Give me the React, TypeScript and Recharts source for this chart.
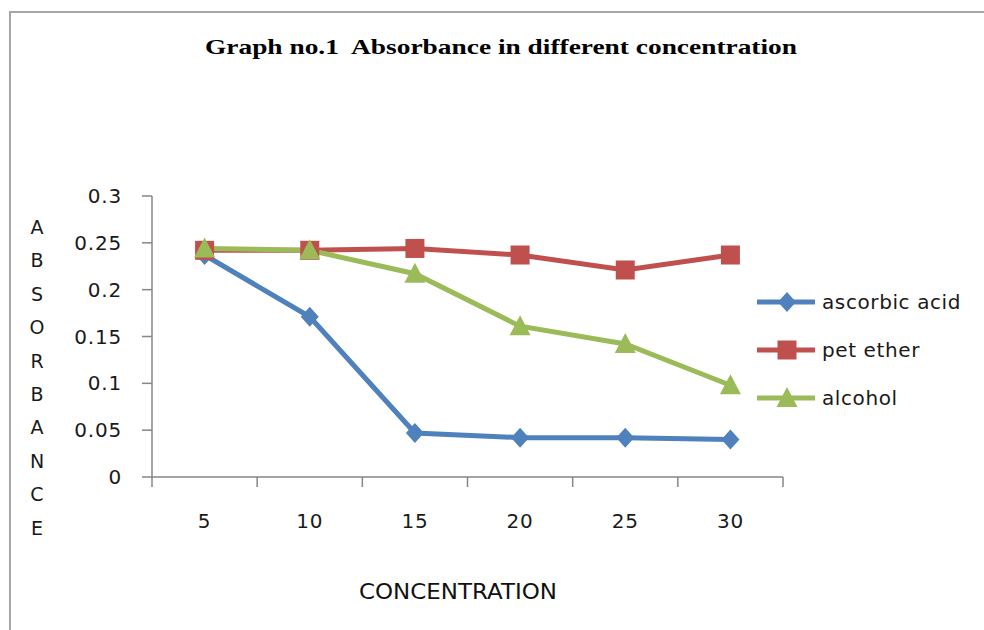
import { LineChart, Line, XAxis, YAxis } from 'recharts'

const concentrations = [5, 10, 15, 20, 25, 30]
const ascorbicAcid = [0.237, 0.171, 0.047, 0.042, 0.042, 0.04]
const petEther = [0.242, 0.242, 0.244, 0.237, 0.221, 0.237]
const alcohol = [0.244, 0.242, 0.217, 0.161, 0.142, 0.098]
const yTicks = [0, 0.05, 0.1, 0.15, 0.2, 0.25, 0.3]
const yTickLabels = ['0', '0.05', '0.1', '0.15', '0.2', '0.25', '0.3']
const xBoundaries = [2.5, 7.5, 12.5, 17.5, 22.5, 27.5, 32.5]
const yTitleLetters = ['A', 'B', 'S', 'O', 'R', 'B', 'A', 'N', 'C', 'E']

const data = concentrations.map((c, i) => ({
    conc: c,
    ascorbic: ascorbicAcid[i],
    pet: petEther[i],
    alcohol: alcohol[i],
}))

const BLUE = '#4F81BD'
const RED = '#C0504D'
const GREEN = '#9BBB59'
const AXIS = '#868686'
const TEXT = '#1a1a1a'
const FONT = '"DejaVu Sans", Verdana, sans-serif'

const PLOT_W = 631
const HALF_BAND = PLOT_W / 12

const Marker = ({ shape, cx, cy, color }: any) => {
    if (cx == null || cy == null) return null
    if (shape === 'diamond')
        return <polygon points={`${cx},${cy - 10} ${cx + 9},${cy} ${cx},${cy + 10} ${cx - 9},${cy}`} fill={color} />
    if (shape === 'square')
        return <rect x={cx - 9.5} y={cy - 9.5} width={19} height={19} fill={color} />
    return <polygon points={`${cx},${cy - 11} ${cx + 10.5},${cy + 9} ${cx - 10.5},${cy + 9}`} fill={color} />
}

const series = [
    { key: 'ascorbic', name: 'ascorbic acid', color: BLUE, shape: 'diamond' },
    { key: 'pet', name: 'pet ether', color: RED, shape: 'square' },
    { key: 'alcohol', name: 'alcohol', color: GREEN, shape: 'triangle' },
]

const XTick = ({ x, y, payload }: any) => {
    if (payload.value >= 32.5) return null
    return (
        <text x={x + HALF_BAND} y={y + 39} textAnchor="middle" fill={TEXT}
            style={{ fontFamily: FONT, fontSize: 20, letterSpacing: 0.8 }}>
            {payload.value + 2.5}
        </text>
    )
}

const App = () => {
    return (
        <div style={{ position: 'absolute', left: 0, top: 0, width: 984, height: 630, overflow: 'hidden', background: '#fff' }}>
            <div style={{ position: 'absolute', left: 9, top: 11, width: 1000, height: 700, border: '2px solid #a6a6a6' }} />
            <div style={{ position: 'absolute', left: 0, top: 0 }}>
                <LineChart width={984} height={630} data={data}
                    margin={{ top: 196, right: 201, left: 92, bottom: 113 }}>
                    <XAxis dataKey="conc" type="number" domain={[2.5, 32.5]} ticks={xBoundaries} interval={0}
                        height={40} tickSize={10} stroke={AXIS} strokeWidth={1.5}
                        tickLine={{ stroke: AXIS, strokeWidth: 1.5 }} tick={<XTick />} />
                    <YAxis domain={[0, 0.3]} ticks={yTicks} interval={0} width={60} tickSize={10} tickMargin={20}
                        stroke={AXIS} strokeWidth={1.5} tickLine={{ stroke: AXIS, strokeWidth: 1.5 }}
                        tickFormatter={(v: number) => yTickLabels[yTicks.indexOf(v)] ?? String(v)}
                        tick={{ fill: TEXT, fontSize: 20, fontFamily: FONT, letterSpacing: 0.8 }} />
                    {series.map((s) => (
                        <Line key={s.key} type="linear" dataKey={s.key} name={s.name} stroke={s.color} strokeWidth={5}
                            isAnimationActive={false} activeDot={false}
                            dot={(p: any) => <Marker key={`${s.key}-${p.index}`} shape={s.shape} cx={p.cx} cy={p.cy} color={s.color} />} />
                    ))}
                </LineChart>
            </div>
            <svg width={984} height={630} style={{ position: 'absolute', left: 0, top: 0, pointerEvents: 'none' }}>
                <text x={205} y={54} textLength={592} lengthAdjust="spacingAndGlyphs" fill="#000"
                    style={{ fontFamily: '"Liberation Serif", "Times New Roman", serif', fontWeight: 'bold', fontSize: 22, whiteSpace: 'pre' }}>
                    {'Graph no.1\u00a0 Absorbance in different concentration'}
                </text>
                {yTitleLetters.map((l, i) => (
                    <text key={i} x={37} y={227 + i * 33.4} textAnchor="middle" dominantBaseline="central" fill={TEXT}
                        style={{ fontFamily: FONT, fontSize: 19 }}>
                        {l}
                    </text>
                ))}
                <text x={359} y={599} textLength={198} lengthAdjust="spacingAndGlyphs" fill="#111"
                    style={{ fontFamily: FONT, fontSize: 21 }}>
                    CONCENTRATION
                </text>
            </svg>
            <div style={{ position: 'absolute', left: 755, top: 278, fontFamily: FONT, fontSize: 20, color: TEXT, letterSpacing: 0.6 }}>
                {series.map((s) => (
                    <div key={s.key} style={{ display: 'flex', alignItems: 'center', height: 48 }}>
                        <svg width={64} height={24}>
                            <line x1={2} y1={12} x2={60} y2={12} stroke={s.color} strokeWidth={5} />
                            <Marker shape={s.shape} cx={32} cy={12} color={s.color} />
                        </svg>
                        <span style={{ marginLeft: 3 }}>{s.name}</span>
                    </div>
                ))}
            </div>
        </div>
    )
}

export default App
